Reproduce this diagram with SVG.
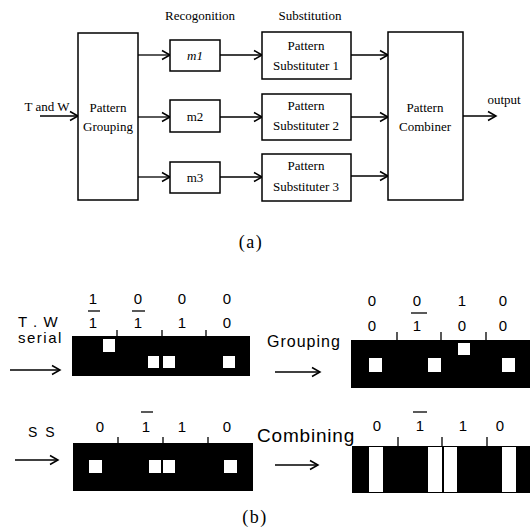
<svg xmlns="http://www.w3.org/2000/svg" width="530" height="530" viewBox="0 0 530 530">
<style>
.box{fill:#fff;stroke:#000;stroke-width:1.5}
.st{font-family:"Liberation Serif",serif;font-size:13px;fill:#000;text-anchor:middle}
.ss{font-family:"Liberation Sans",Arial,sans-serif;fill:#000}
.dg{font-family:"Liberation Sans",Arial,sans-serif;font-size:15px;fill:#000;text-anchor:middle}
.ln{stroke:#000;stroke-width:1.3;fill:none}
.blk{fill:#000}
.wh{fill:#fff}
.cap{font-family:"Liberation Serif",serif;font-size:18px;fill:#000;text-anchor:middle;letter-spacing:1.5px}
</style>
<defs>
<marker id="ah" markerUnits="userSpaceOnUse" markerWidth="12" markerHeight="12" refX="9" refY="6" orient="auto">
<path d="M1,1.5 L9,6 L1,10.5" fill="none" stroke="#000" stroke-width="1.5"/>
</marker>
</defs>
<g id="connectors">
<line class="ln" x1="40" y1="116" x2="78" y2="116" marker-end="url(#ah)"/>
<line class="ln" x1="138" y1="55" x2="170" y2="55" marker-end="url(#ah)"/>
<line class="ln" x1="138" y1="117" x2="170" y2="117" marker-end="url(#ah)"/>
<line class="ln" x1="138" y1="177" x2="170" y2="177" marker-end="url(#ah)"/>
<line class="ln" x1="220" y1="55" x2="262" y2="55" marker-end="url(#ah)"/>
<line class="ln" x1="220" y1="117" x2="262" y2="117" marker-end="url(#ah)"/>
<line class="ln" x1="220" y1="177" x2="262" y2="177" marker-end="url(#ah)"/>
<line class="ln" x1="351" y1="55" x2="388" y2="55" marker-end="url(#ah)"/>
<line class="ln" x1="351" y1="117" x2="388" y2="117" marker-end="url(#ah)"/>
<line class="ln" x1="351" y1="176" x2="388" y2="176" marker-end="url(#ah)"/>
<line class="ln" x1="463" y1="116" x2="496" y2="116" marker-end="url(#ah)"/>
</g>
<g id="labels-a">
<text class="st" x="200" y="20">Recogonition</text>
<text class="st" x="310" y="20">Substitution</text>
<text class="st" x="47" y="111">T and W</text>
<text class="st" x="504" y="104">output</text>
<text class="cap" x="251" y="248">(a)</text>
</g>
<g id="grouping">
<rect class="box" x="78" y="33" width="60" height="167"/>
<text class="st" x="108" y="112">Pattern</text>
<text class="st" x="108" y="131">Grouping</text>
</g>
<g id="m1">
<rect class="box" x="170" y="40" width="50" height="31"/>
<text class="st" x="195" y="60" font-style="italic">m1</text>
</g>
<g id="m2">
<rect class="box" x="170" y="100" width="50" height="32"/>
<text class="st" x="195" y="121">m2</text>
</g>
<g id="m3">
<rect class="box" x="170" y="162" width="50" height="31"/>
<text class="st" x="195" y="182">m3</text>
</g>
<g id="sub1">
<rect class="box" x="262" y="32" width="89" height="47"/>
<text class="st" x="306" y="50">Pattern</text>
<text class="st" x="306" y="70">Substituter 1</text>
</g>
<g id="sub2">
<rect class="box" x="262" y="94" width="89" height="46"/>
<text class="st" x="306" y="110">Pattern</text>
<text class="st" x="306" y="130">Substituter 2</text>
</g>
<g id="sub3">
<rect class="box" x="262" y="154" width="89" height="47"/>
<text class="st" x="306" y="170">Pattern</text>
<text class="st" x="306" y="191">Substituter 3</text>
</g>
<g id="combiner">
<rect class="box" x="388" y="32" width="75" height="168"/>
<text class="st" x="425" y="112">Pattern</text>
<text class="st" x="425" y="131">Combiner</text>
</g>
<g id="part-b">
<!-- row 1 -->
<text class="ss" x="18" y="327" font-size="15" letter-spacing="1">T . W</text>
<text class="ss" x="18" y="343" font-size="15" letter-spacing="1.5">serial</text>
<text class="dg" x="93" y="304">1</text><text class="dg" x="138" y="304">0</text><text class="dg" x="182" y="304">0</text><text class="dg" x="227" y="304">0</text>
<line class="ln" x1="88" y1="311" x2="100" y2="311"/><line class="ln" x1="132" y1="311" x2="145" y2="311"/>
<text class="dg" x="93" y="328">1</text><text class="dg" x="138" y="328">1</text><text class="dg" x="182" y="328">1</text><text class="dg" x="227" y="328">0</text>
<path class="ln" d="M117,330V336M162,330V336M206,330V336"/>
<rect class="blk" x="72" y="336" width="178" height="40"/>
<rect class="wh" x="103" y="339" width="12" height="13"/>
<rect class="wh" x="148" y="356" width="11" height="12"/>
<rect class="wh" x="163" y="356" width="12" height="12"/>
<rect class="wh" x="223" y="356" width="12" height="12"/>
<line class="ln" x1="10" y1="370" x2="60" y2="370" marker-end="url(#ah)"/>
<!-- row 2 -->
<text class="ss" x="267" y="347" font-size="16" letter-spacing="1">Grouping</text>
<line class="ln" x1="275" y1="372" x2="320" y2="372" marker-end="url(#ah)"/>
<text class="dg" x="372" y="306">0</text><text class="dg" x="417" y="306">0</text><text class="dg" x="462" y="306">1</text><text class="dg" x="503" y="306">0</text>
<line class="ln" x1="411" y1="313" x2="427" y2="313"/>
<text class="dg" x="372" y="331">0</text><text class="dg" x="417" y="331">1</text><text class="dg" x="462" y="331">0</text><text class="dg" x="503" y="331">0</text>
<path class="ln" d="M397,332V340M441,332V340M486,332V340"/>
<rect class="blk" x="351" y="340" width="179" height="48"/>
<rect class="wh" x="458" y="343" width="12" height="12"/>
<rect class="wh" x="369" y="358" width="13" height="14"/>
<rect class="wh" x="428" y="358" width="13" height="14"/>
<rect class="wh" x="502" y="358" width="13" height="14"/>
<!-- row 3 -->
<text class="ss" x="28" y="437" font-size="14" letter-spacing="2">S S</text>
<text class="dg" x="100" y="432">0</text><text class="dg" x="146" y="432">1</text><text class="dg" x="182" y="432">1</text><text class="dg" x="227" y="432">0</text>
<line class="ln" x1="141" y1="412" x2="153" y2="412"/>
<path class="ln" d="M118,437V443M163,437V443M208,437V443"/>
<rect class="blk" x="73" y="443" width="180" height="48"/>
<rect class="wh" x="89" y="460" width="13" height="13"/>
<rect class="wh" x="149" y="460" width="12" height="13"/>
<rect class="wh" x="163" y="460" width="12" height="13"/>
<rect class="wh" x="224" y="460" width="13" height="13"/>
<line class="ln" x1="15" y1="460" x2="58" y2="460" marker-end="url(#ah)"/>
<!-- row 4 -->
<text class="ss" x="257" y="442" font-size="19" letter-spacing="0.8">Combining</text>
<line class="ln" x1="275" y1="465" x2="318" y2="465" marker-end="url(#ah)"/>
<text class="dg" x="377" y="431">0</text><text class="dg" x="420" y="431">1</text><text class="dg" x="463" y="431">1</text><text class="dg" x="500" y="431">0</text>
<line class="ln" x1="413" y1="412" x2="427" y2="412"/>
<path class="ln" d="M398,437V446M442,437V446M487,437V446"/>
<rect class="blk" x="352" y="446" width="178" height="47"/>
<rect class="wh" x="369" y="447" width="14" height="45"/>
<rect class="wh" x="428" y="447" width="14" height="45"/>
<rect class="wh" x="444" y="447" width="13" height="45"/>
<rect class="wh" x="502" y="447" width="14" height="45"/>
<text class="cap" x="255" y="523">(b)</text>
</g>
</svg>
